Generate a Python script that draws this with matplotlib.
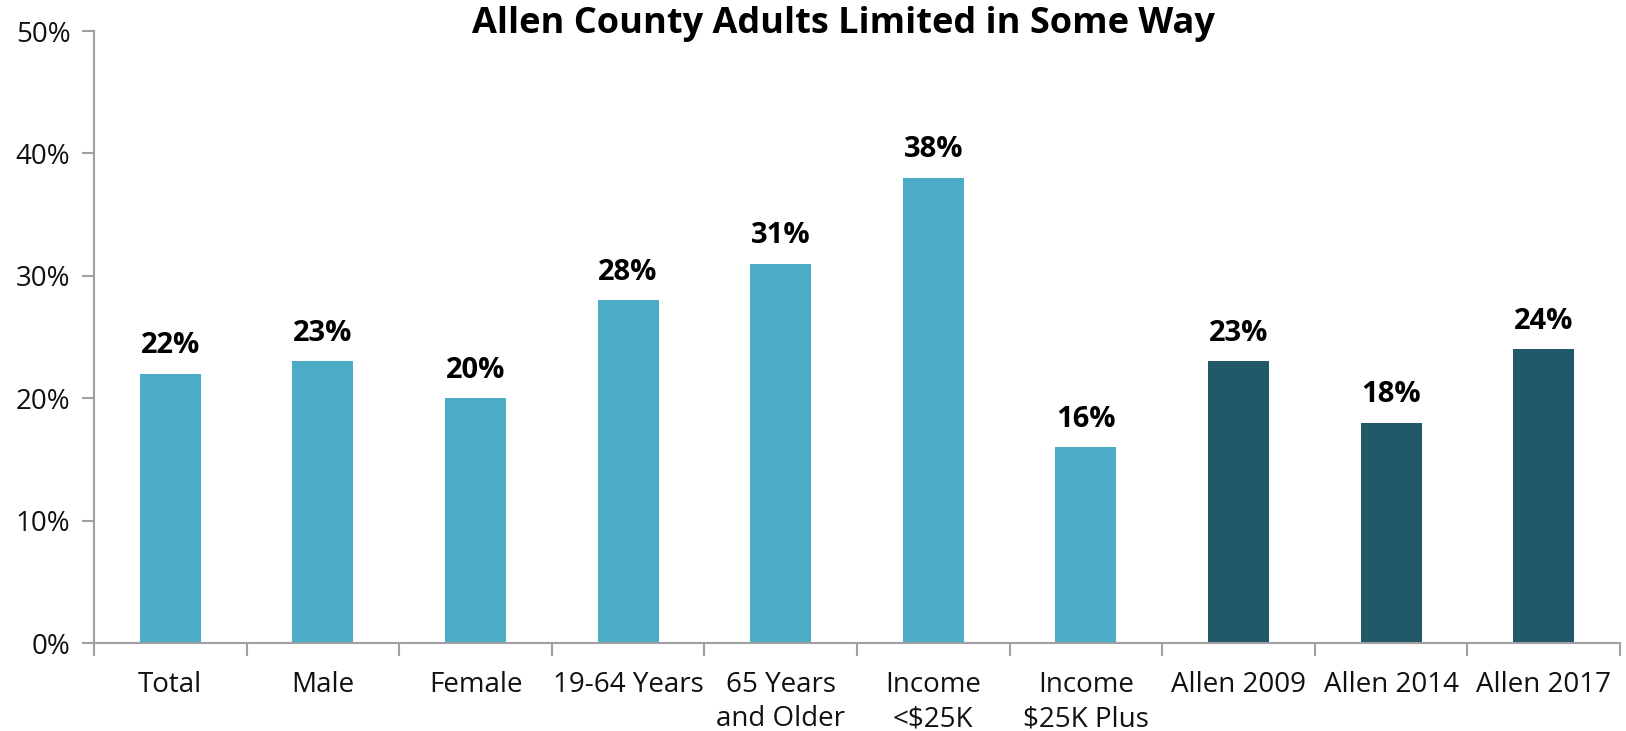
import matplotlib
matplotlib.use("Agg")
import matplotlib.pyplot as plt
import numpy as np

categories = ["Total", "Male", "Female", "19-64 Years", "65 Years\nand Older",
              "Income\n<$25K", "Income\n$25K Plus", "Allen 2009", "Allen 2014", "Allen 2017"]
values = [22, 23, 20, 28, 31, 38, 16, 23, 18, 24]
colors = ["#4BACC6"] * 7 + ["#215968"] * 3
yticks = [0, 10, 20, 30, 40, 50]
title = "Allen County Adults Limited in Some Way"

plt.rcParams['font.family'] = ['Open Sans', 'DejaVu Sans']

fig = plt.figure(figsize=(16.26, 7.31), dpi=100)
ax = fig.add_axes([94/1626, 1-643/731, (1620-94)/1626, (643-31)/731])

x = np.arange(len(categories))
ax.bar(x, values, width=0.4, color=colors, zorder=2)
for xi, v in zip(x, values):
    ax.text(xi, v + 1.1, f"{v}%", ha="center", va="bottom", fontsize=21, fontweight="bold", color="#000000")

ax.set_xlim(-0.5, len(categories) - 0.5)
ax.set_ylim(0, 50)
ax.set_yticks(yticks)
ax.set_yticklabels([f"{t}%" for t in yticks], fontsize=20, color="#111111")
ax.set_xticks(x)
ax.set_xticklabels(categories, fontsize=20, color="#111111", linespacing=1.3)
ax.tick_params(axis="x", length=0, pad=20)
ax.set_xticks(np.arange(-0.5, len(categories)), minor=True)
ax.tick_params(axis="x", which="minor", length=9, width=1.5, color="#A0A0A0")
ax.tick_params(axis="y", length=9, width=1.5, color="#A0A0A0", pad=8)

for s in ["top", "right"]:
    ax.spines[s].set_visible(False)
for s in ["left", "bottom"]:
    ax.spines[s].set_color("#A0A0A0")
    ax.spines[s].set_linewidth(1.5)

fig.text(843/1626, 1-24/731, title, ha="center", va="center", fontsize=26, fontweight="bold")

fig.savefig("out.png", dpi=100, facecolor="white")
